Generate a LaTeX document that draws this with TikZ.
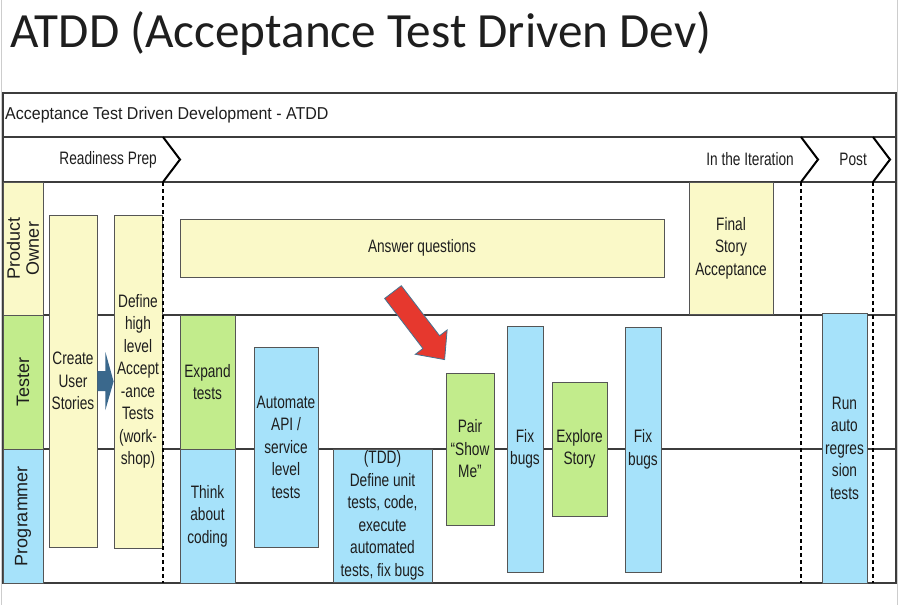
\documentclass[tikz,border=0pt]{standalone}
\usepackage{fontspec}
\setmainfont{Liberation Sans}
\newfontfamily\boxfont{Liberation Sans}[FakeStretch=0.76]
\newfontfamily\hdrfont{Liberation Sans}[FakeStretch=0.93]
\newfontfamily\titlefont{Carlito}
\usepackage{tikz}
\usetikzlibrary{calc}
\definecolor{yel}{RGB}{250,249,200}
\definecolor{grn}{RGB}{194,236,140}
\definecolor{blu}{RGB}{166,226,250}
\definecolor{boxline}{RGB}{85,85,85}
\definecolor{frameline}{RGB}{60,60,60}
\definecolor{txt}{RGB}{30,30,30}
\definecolor{redarrow}{RGB}{230,56,46}
\definecolor{arrowedge}{RGB}{70,115,145}
\definecolor{navyarrow}{RGB}{58,104,140}
\definecolor{edgegrey}{RGB}{205,205,205}

\begin{document}
\begin{tikzpicture}[x=1pt,y=-1pt,
    every node/.style={inner sep=1pt,text=txt},
    box/.style={draw=boxline,line width=0.8pt,align=center,font=\boxfont\fontsize{18}{22.5}\selectfont},
    ybox/.style={box,fill=yel},
    gbox/.style={box,fill=grn},
    bbox/.style={box,fill=blu},
    lane/.style={draw=boxline,line width=0.8pt,rotate=90,align=center,minimum height=40pt,font=\fontsize{18}{19}\selectfont},
    phase/.style={anchor=east,font=\boxfont\fontsize{18}{19}\selectfont},
    chevron/.style={line width=2pt,line join=miter},
    phaseline/.style={line width=2.2pt,dash pattern=on 4pt off 3pt},
    frame/.style={draw=frameline,line width=1.4pt}]
    \useasboundingbox (0,0) rectangle (900,605);
    \fill[white] (0,0) rectangle (900,605);
    \draw[edgegrey] (1,0) -- (1,605);
    \draw[edgegrey] (897.5,0) -- (897.5,605);

    \node[anchor=base west,inner sep=0pt,font=\titlefont\fontsize{49.2}{50}\selectfont] (title) at (10,47) {ATDD (Acceptance Test Driven Dev)};

    \draw[frame] (3,93) rectangle (896,583);
    \draw[frame] (3,137) -- (896,137);
    \draw[frame] (3,182) -- (896,182);
    \draw[frame] (43,315) -- (896,315);
    \draw[frame] (43,449) -- (896,449);

    \node[anchor=west,font=\hdrfont\fontsize{17.2}{19}\selectfont] (hdr) at (4,115) {Acceptance Test Driven Development - ATDD};
    \node[phase] (prep) at (158,159.5) {Readiness Prep};
    \node[phase] (iter) at (795,159.5) {In the Iteration};
    \node[phase] (post) at (868,159.5) {Post};

    \node[lane,fill=yel,minimum width=133pt] (po) at (23,248.5) {Product\\Owner};
    \node[lane,fill=grn,minimum width=134pt] (tester) at (23,382) {Tester};
    \node[lane,fill=blu,minimum width=134pt] (prog) at (23,516) {Programmer};

    \node[ybox,minimum width=48pt,minimum height=332pt] (cus) at (73,381) {Create\\User\\Stories};
    \node[ybox,minimum width=48pt,minimum height=333pt] (dhl) at (138,381.5) {Define\\high\\level\\Accept\\-ance\\Tests\\(work-\\shop)};
    \node[ybox,minimum width=484pt,minimum height=58pt] (ansq) at (422,248) {Answer questions};
    \node[ybox,minimum width=84pt,minimum height=132pt] (fsa) at (731,248) {Final\\Story\\Acceptance};
    \node[gbox,minimum width=55pt,minimum height=134pt] (expt) at (207.5,382) {Expand\\tests};
    \node[bbox,minimum width=55pt,minimum height=134pt] (think) at (207.5,516) {Think\\about\\coding};
    \node[bbox,minimum width=64pt,minimum height=200pt] (autoapi) at (286,447) {Automate\\API /\\service\\level\\tests};
    \node[bbox,minimum width=99pt,minimum height=133pt,inner sep=0pt] (tdd) at (382.5,515.5) {(TDD)\\Define unit\\tests, code,\\execute\\automated\\tests, fix bugs};
    \node[gbox,minimum width=48pt,minimum height=152pt] (pair) at (470,449) {Pair\\“Show\\Me”};
    \node[bbox,minimum width=36pt,minimum height=246pt] (fixa) at (525,449) {Fix\\bugs};
    \node[gbox,minimum width=55pt,minimum height=134pt] (explore) at (579.5,449) {Explore\\Story};
    \node[bbox,minimum width=36pt,minimum height=245pt] (fixb) at (643,449.5) {Fix\\bugs};
    \node[bbox,minimum width=45pt,minimum height=270pt] (regr) at (844.5,448) {Run\\auto\\regres\\sion\\tests};

    \fill[navyarrow] ($(cus.east)+(0,-10)$) -- ++(8,0) -- ++(0,-19) -- (dhl.west)
        -- ($(cus.east)+(8,29)$) -- ++(0,-19) -- ++(-8,0) -- cycle;

    \begin{scope}[shift={($(pair.north west)+(-1,-13)$)},rotate=-52.6]
        \filldraw[fill=redarrow,draw=arrowedge,line width=0.8pt] (-85,10.5) -- (-22,10.5) -- (-22,20) -- (0,0)
            -- (-22,-20) -- (-22,-10.5) -- (-85,-10.5) -- cycle;
    \end{scope}

    \foreach \x in {163,801,873} {
        \draw[chevron] (\x,137) -- ++(17,22.5) -- (\x,182);
        \draw[phaseline] (\x,182) -- (\x,583);
    }
\end{tikzpicture}
\end{document}
